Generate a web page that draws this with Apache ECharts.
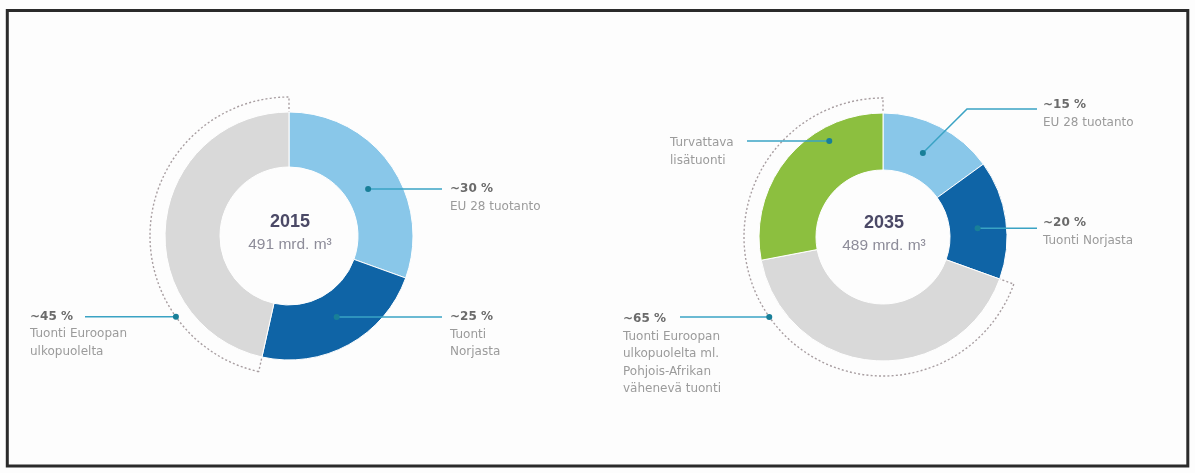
<!DOCTYPE html>
<html>
<head>
<meta charset="utf-8">
<script src="https://cdn.jsdelivr.net/npm/echarts@6/dist/echarts.min.js"></script>
<style>
html,body{margin:0;padding:0;background:#fdfdfd;}
#c{width:1195px;height:473px;}
</style>
</head>
<body>
<div id="c"></div>
<script>
// ---- data ----
const years = ['2015', '2035'];
const totals = ['491 mrd. m³', '489 mrd. m³'];
const names2015 = ['EU 28 tuotanto', 'Tuonti Norjasta', 'Tuonti Euroopan ulkopuolelta'];
const values2015 = [30.5, 23, 46.5];
const names2035 = ['EU 28 tuotanto', 'Tuonti Norjasta', 'Tuonti Euroopan ulkopuolelta ml. Pohjois-Afrikan vähenevä tuonti', 'Turvattava lisätuonti'];
const values2035 = [15, 15.5, 41.5, 28];
const pct2015 = ['~30 %', '~25 %', '~45 %'];
const pct2035 = ['~15 %', '~20 %', '~65 %', ''];
const desc2015 = [['EU 28 tuotanto'], ['Tuonti', 'Norjasta'], ['Tuonti Euroopan', 'ulkopuolelta']];
const desc2035 = [['EU 28 tuotanto'], ['Tuonti Norjasta'], ['Tuonti Euroopan', 'ulkopuolelta ml.', 'Pohjois-Afrikan', 'vähenevä tuonti'], ['Turvattava', 'lisätuonti']];
const bracketStart2015 = 2;   // bracket covers slices from this index to the end
const bracketStart2035 = 2;

// ---- styles / layout ----
const colors = ['#89c7e9', '#0f64a6', '#d9d9d9', '#8cbf3f'];
const charts = [
  {center: [289, 236], radius: [69, 124], bracketR: 139, values: values2015, names: names2015, bStart: bracketStart2015,
   ann: [
     {slice: 0, t: 0.54, r: 92, pts: (d) => [[d[0], d[1]], [442, d[1]]], tx: 450, ty: (d) => d[1], pct: pct2015[0], desc: desc2015[0]},
     {slice: 1, t: 0.48, r: 94, pts: (d) => [[d[0], d[1]], [442, d[1]]], tx: 450, ty: (d) => d[1], pct: pct2015[1], desc: desc2015[1]},
     {bracket: true, t: 0.25, pts: (d) => [[d[0], d[1]], [85, d[1]]], tx: 30, ty: (d) => d[1], pct: pct2015[2], desc: desc2015[2]}
   ]},
  {center: [883, 237], radius: [67, 124], bracketR: 139, values: values2035, names: names2035, bStart: bracketStart2035,
   ann: [
     {slice: 0, t: 0.47, r: 93, pts: (d) => [[d[0], d[1]], [967, 109], [1037, 109]], tx: 1043, ty: () => 105, pct: pct2035[0], desc: desc2035[0]},
     {slice: 1, t: 0.55, r: 95, pts: (d) => [[d[0], d[1]], [1037, d[1]]], tx: 1043, ty: (d) => d[1] - 5, pct: pct2035[1], desc: desc2035[1]},
     {slice: 3, t: 0.71, r: 110, pts: (d) => [[d[0], d[1]], [747, d[1]]], tx: 670, ty: (d) => d[1] + 2, pct: null, desc: desc2035[3]},
     {bracket: true, t: 0.5, pts: (d) => [[d[0], d[1]], [680, d[1]]], tx: 623, ty: (d) => d[1] + 2, pct: pct2035[2], desc: desc2035[2]}
   ]}
];

const series = [];
const graphic = [];

function polar(c, r, frac) {
  const a = frac * 2 * Math.PI;
  return [c[0] + r * Math.sin(a), c[1] - r * Math.cos(a)];
}

charts.forEach((ch, ci) => {
  const total = ch.values.reduce((a, b) => a + b, 0);
  const cum = [0];
  ch.values.forEach((v) => cum.push(cum[cum.length - 1] + v));
  // main ring
  series.push({
    type: 'pie', center: ch.center, radius: ch.radius, startAngle: 90, clockwise: true,
    silent: true, animation: false, z: 3,
    label: {show: false}, labelLine: {show: false},
    itemStyle: {borderColor: '#ffffff', borderWidth: 1},
    data: ch.values.map((v, i) => ({value: v, name: ch.names[i], itemStyle: {color: colors[i]}}))
  });
  // dotted bracket
  const before = cum[ch.bStart];
  const inside = total - before;
  series.push({
    type: 'pie', center: ch.center, radius: [ch.radius[1] - 8, ch.bracketR], startAngle: 90, clockwise: true,
    silent: true, animation: false, z: 1,
    label: {show: false}, labelLine: {show: false},
    data: [
      {value: before, itemStyle: {color: 'transparent', borderWidth: 0}},
      {value: inside, itemStyle: {color: 'transparent', borderColor: '#a89ea1', borderWidth: 1.4, borderType: [2, 2.2]}}
    ]
  });
  // center text
  graphic.push({type: 'text', z: 10, style: {text: years[ci], x: ch.center[0] + 1, y: ch.center[1] - 14, textAlign: 'center', textVerticalAlign: 'middle', verticalAlign: 'middle', font: 'bold 18px "Liberation Sans", Arial, sans-serif', fill: '#4b4966'}});
  graphic.push({type: 'text', z: 10, style: {text: totals[ci], x: ch.center[0] + 1, y: ch.center[1] + 9, textAlign: 'center', textVerticalAlign: 'middle', verticalAlign: 'middle', font: '15.5px "Liberation Sans", Arial, sans-serif', fill: '#8d8c99'}});
  // annotations
  ch.ann.forEach((a) => {
    let d;
    if (a.bracket) {
      const frac = (before + a.t * inside) / total;
      d = polar(ch.center, ch.bracketR, frac);
    } else {
      const frac = (cum[a.slice] + a.t * ch.values[a.slice]) / total;
      d = polar(ch.center, a.r, frac);
    }
    graphic.push({type: 'polyline', z: 11, shape: {points: a.pts(d)}, style: {stroke: '#3aa3c4', lineWidth: 1.5, fill: null}});
    graphic.push({type: 'circle', z: 12, shape: {cx: d[0], cy: d[1], r: 3}, style: {fill: '#187f98'}});
    let y = a.ty(d);
    const lines = [];
    if (a.pct) lines.push({t: a.pct, bold: true});
    a.desc.forEach((s) => lines.push({t: s, bold: false}));
    lines.forEach((ln, k) => {
      graphic.push({type: 'text', z: 12, style: {
        text: ln.t, x: a.tx, y: y + k * 17.5, textAlign: 'left', textVerticalAlign: 'middle', verticalAlign: 'middle',
        font: (ln.bold ? 'bold ' : '') + '12px "DejaVu Sans", sans-serif',
        fill: ln.bold ? '#6b6b6b' : '#9b9b9b'
      }});
    });
  });
});

// frame
graphic.push({type: 'rect', z: 20, shape: {x: 7.3, y: 10.5, width: 1180.5, height: 455.5}, style: {fill: null, stroke: '#2b2b2b', lineWidth: 3}});

const chart = echarts.init(document.getElementById('c'), null, {renderer: 'canvas'});
chart.setOption({
  backgroundColor: '#fdfdfd',
  animation: false,
  series: series,
  graphic: graphic
});
</script>
</body>
</html>
